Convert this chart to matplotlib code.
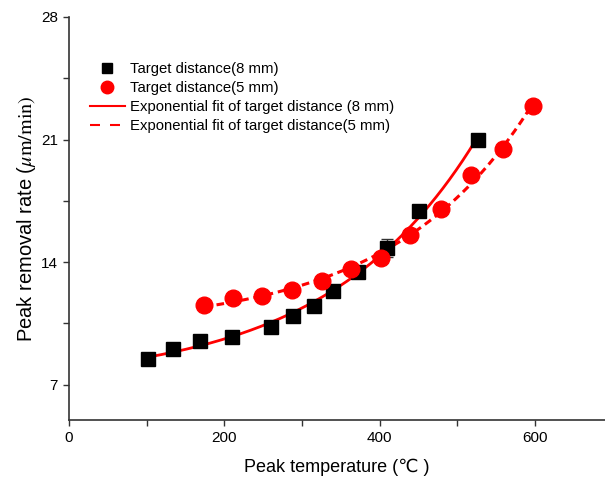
import numpy as np
import matplotlib
matplotlib.use("Agg")
import matplotlib.pyplot as plt
from matplotlib.ticker import MultipleLocator
from matplotlib.lines import Line2D

# target distance 8 mm
temp_8 = [102, 134, 169, 210, 260, 289, 316, 340, 372, 409, 450, 526]
rate_8 = [8.48, 9.05, 9.52, 9.75, 10.32, 10.94, 11.51, 12.33, 13.45, 14.8, 16.92, 20.96]
err_8 = [0, 0, 0, 0, 0, 0, 0, 0, 0, 0.5, 0, 0]

# target distance 5 mm
temp_5 = [174, 211, 249, 287, 326, 363, 402, 439, 479, 517, 559, 597]
rate_5 = [11.55, 11.95, 12.08, 12.41, 12.92, 13.6, 14.21, 15.54, 17.06, 18.95, 20.43, 22.94]

RED = "#ff0000"


def exp_fit(x, y):
    # y = y0 + A*exp(x/t), scan t and solve the linear part
    x = np.asarray(x, float)
    y = np.asarray(y, float)
    best = None
    for t in np.linspace(50, 2000, 4000):
        M = np.column_stack([np.ones_like(x), np.exp(x / t)])
        coef, *_ = np.linalg.lstsq(M, y, rcond=None)
        res = np.sum((M @ coef - y) ** 2)
        if best is None or res < best[0]:
            best = (res, t, coef)
    _, t, (y0, a) = best
    xs = np.linspace(x.min(), x.max(), 200)
    return xs, y0 + a * np.exp(xs / t)


plt.rcParams["font.family"] = ["Liberation Sans", "DejaVu Sans"]
plt.rcParams["mathtext.fontset"] = "stix"

fig = plt.figure(figsize=(6.05, 4.82), dpi=100)
ax = fig.add_axes([0.114, 0.129, 0.886, 0.836])

fx8, fy8 = exp_fit(temp_8, rate_8)
fx5, fy5 = exp_fit(temp_5, rate_5)
ax.plot(fx8, fy8, color=RED, lw=2, zorder=3)
ax.plot(fx5, fy5, color=RED, lw=2.2, ls=(0, (2.5, 1.6)), zorder=3)

ax.errorbar(temp_8, rate_8, yerr=err_8, fmt="none", ecolor="#333333",
            elinewidth=1, capsize=4, zorder=2)
ax.plot(temp_8, rate_8, ls="none", marker="s", ms=10, color="black", zorder=4)
ax.plot(temp_5, rate_5, ls="none", marker="o", ms=12, color=RED, zorder=4)

ax.set_xlim(0, 690)
ax.set_ylim(5, 28)
ax.xaxis.set_major_locator(MultipleLocator(200))
ax.xaxis.set_minor_locator(MultipleLocator(100))
ax.yaxis.set_major_locator(MultipleLocator(7))
ax.yaxis.set_minor_locator(MultipleLocator(3.5))
ax.tick_params(which="both", direction="out", width=1, colors="#333333",
               labelcolor="black", labelsize=11)
ax.tick_params(which="major", length=4.5)
ax.tick_params(which="minor", length=4)
for s in ("top", "right"):
    ax.spines[s].set_visible(False)
for s in ("left", "bottom"):
    ax.spines[s].set_color("#333333")
    ax.spines[s].set_linewidth(1.2)

ax.set_xlabel("Peak temperature (\u2103 )", fontsize=13, labelpad=10)
ax.set_ylabel(r"Peak removal rate ($\mu\mathrm{m/min)}$", fontsize=14.5)
ax.yaxis.set_label_coords(-0.058, 0.5)

handles = [
    Line2D([], [], ls="none", marker="s", ms=7, color="black"),
    Line2D([], [], ls="none", marker="o", ms=9, color=RED),
    Line2D([], [], color=RED, lw=1.5),
    Line2D([], [], color=RED, lw=1.5, ls=(0, (4.8, 4.8))),
]
labels = [
    "Target distance(8 mm)",
    "Target distance(5 mm)",
    "Exponential fit of target distance (8 mm)",
    "Exponential fit of target distance(5 mm)",
]
ax.legend(handles, labels, loc="upper left", bbox_to_anchor=(0.039, 0.888),
          frameon=False, fontsize=10.7, handlelength=2.35, handletextpad=0.34,
          labelspacing=0.33, borderaxespad=0, borderpad=0)

fig.savefig("out.png", dpi=100)
